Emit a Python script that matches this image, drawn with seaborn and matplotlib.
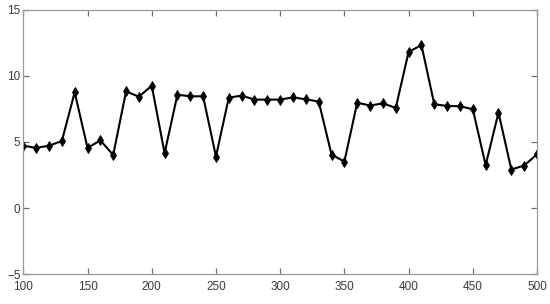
import numpy as np
import pandas as pd
import seaborn as sns
import matplotlib
matplotlib.use('Agg')
import matplotlib.pyplot as plt

# x konumlari (100..500, 10'ar adim)
x_vals = [100, 110, 120, 130, 140, 150, 160, 170, 180, 190,
          200, 210, 220, 230, 240, 250, 260, 270, 280, 290,
          300, 310, 320, 330, 340, 350, 360, 370, 380, 390,
          400, 410, 420, 430, 440, 450, 460, 470, 480, 490, 500]

y_vals = [4.72, 4.55, 4.72, 5.07, 8.75, 4.55, 5.12, 4.02, 8.82, 8.42,
          9.25, 4.15, 8.57, 8.45, 8.45, 3.90, 8.35, 8.50, 8.20, 8.20,
          8.20, 8.37, 8.22, 8.05, 4.05, 3.52, 7.97, 7.75, 7.92, 7.57,
          11.80, 12.32, 7.85, 7.72, 7.70, 7.47, 3.25, 7.22, 2.92, 3.22, 4.07]

x_ticks = [100, 150, 200, 250, 300, 350, 400, 450, 500]
y_ticks = [-5, 0, 5, 10, 15]

df = pd.DataFrame({"x": x_vals, "y": y_vals})

sns.set_style("white")
plt.rcParams['font.family'] = ['Liberation Sans', 'DejaVu Sans']

fig = plt.figure(figsize=(5.5, 3.04), dpi=100)
ax = fig.add_axes([0.0424, 0.0975, 0.934, 0.871])

sns.lineplot(data=df, x="x", y="y", ax=ax, color="black", linewidth=1.5,
             marker="d", markersize=5.5, markeredgewidth=0.6,
             markeredgecolor="black", markerfacecolor="black")

ax.set_xlim(100, 500)
ax.set_ylim(-5, 15)
ax.set_xticks(x_ticks)
ax.set_yticks(y_ticks)
ax.set_xlabel("")
ax.set_ylabel("")

# matlab tarzi cerceve ve iceri bakan tikler
for s in ax.spines.values():
    s.set_color("#9a9a9a")
    s.set_linewidth(0.9)
ax.tick_params(direction="in", length=4, width=0.9, color="#707070",
               labelsize=8.5, labelcolor="#3a3a3a", top=True, right=True,
               bottom=True, left=True)
ax.tick_params(axis="x", pad=5)
ax.tick_params(axis="y", pad=2)

fig.savefig("out.png", dpi=100)
